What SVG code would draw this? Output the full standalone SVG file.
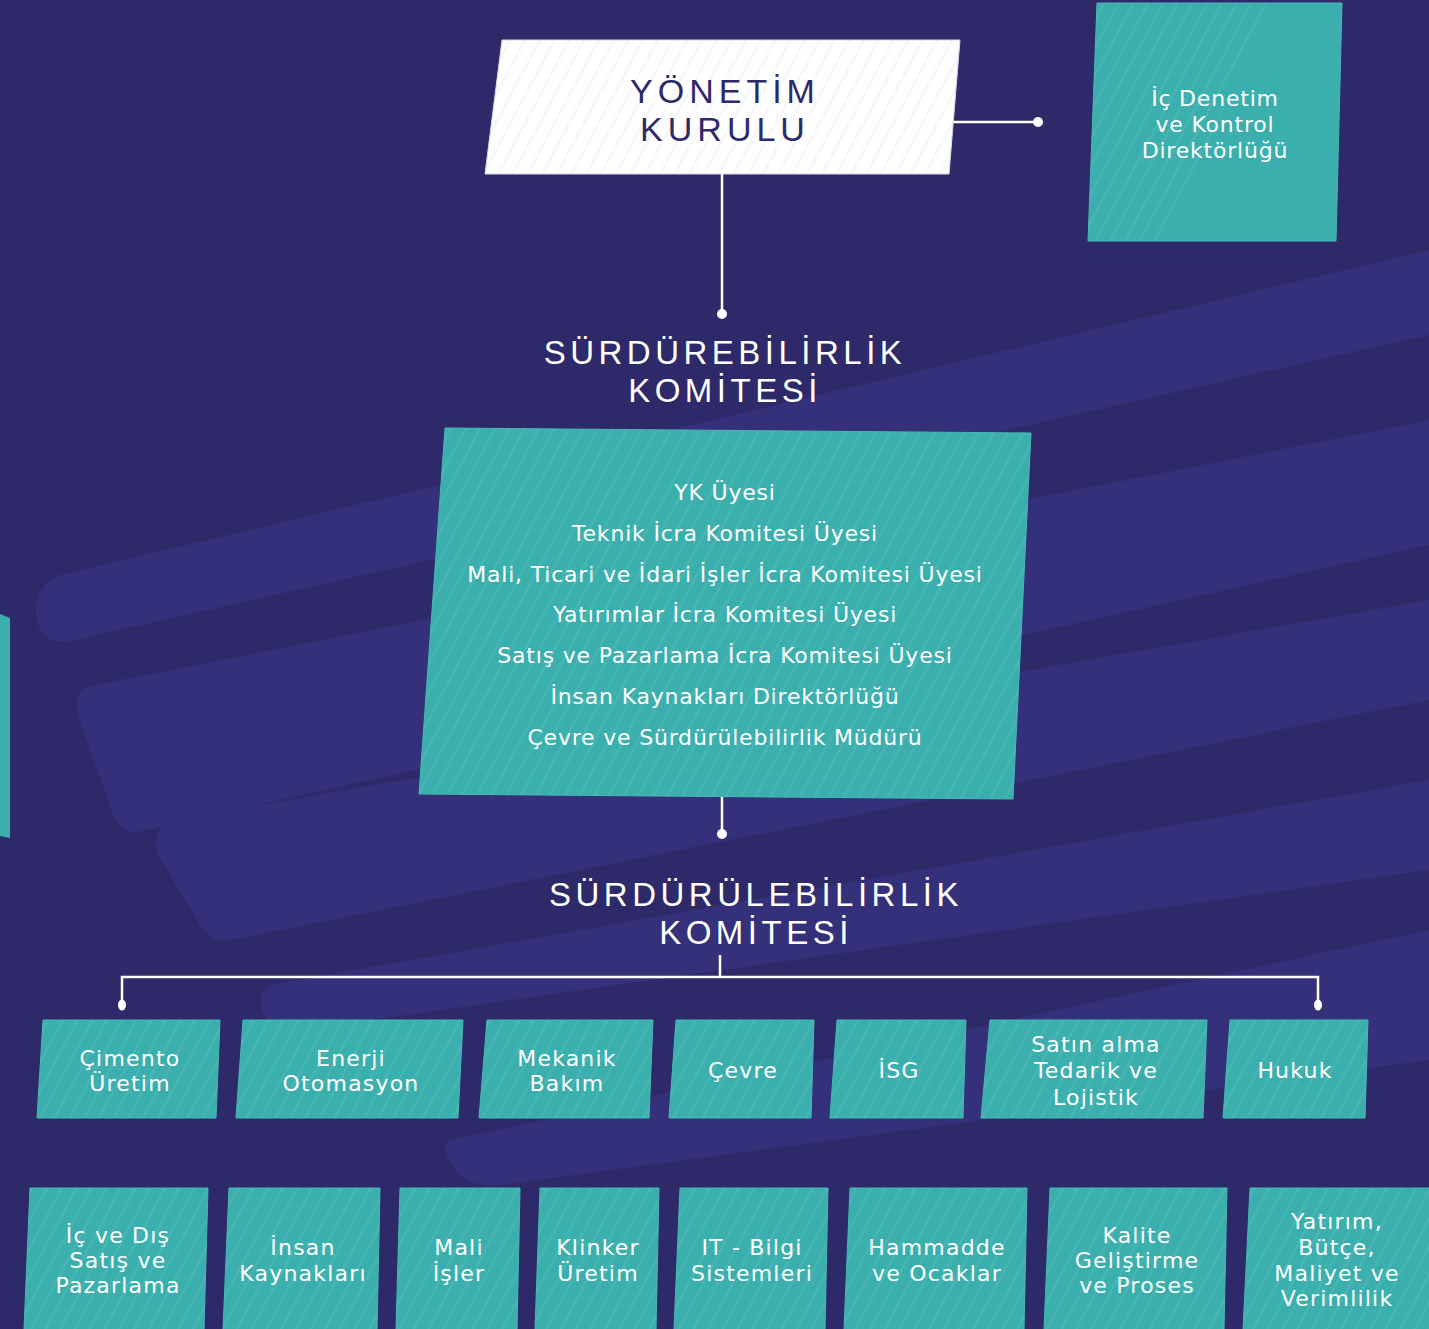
<svg xmlns="http://www.w3.org/2000/svg" width="1429" height="1329" viewBox="0 0 1429 1329">
<defs>
<pattern id="hatch" width="13" height="13" patternUnits="userSpaceOnUse" patternTransform="rotate(28)">
<rect x="0" y="0" width="2.5" height="13" fill="#ffffff" fill-opacity="0.07"/>
</pattern>
<pattern id="hatchN" width="13" height="13" patternUnits="userSpaceOnUse" patternTransform="rotate(28)">
<rect x="0" y="0" width="3" height="13" fill="#2e2a69" fill-opacity="0.035"/>
</pattern>
<style>
.bg{fill:#2e2a69}
.band{fill:#34307a}
.teal{fill:#3aafad;stroke:#46b9b6;stroke-width:1}
.hatch{fill:url(#hatch)}
.hd{font-family:"Liberation Sans",Arial,sans-serif;font-size:33px;fill:#ffffff;letter-spacing:4.5px;text-anchor:middle}
.yk{font-family:"Liberation Sans",Arial,sans-serif;font-size:34px;fill:#2e2a69;letter-spacing:5px;text-anchor:middle}
.bx{font-family:"DejaVu Sans",sans-serif;font-size:22px;fill:#ffffff;letter-spacing:1.2px;text-anchor:middle}
.big{font-family:"DejaVu Sans",sans-serif;font-size:22px;fill:#ffffff;letter-spacing:0.8px;text-anchor:middle}
.ln{stroke:#ffffff;stroke-width:2.5;fill:none}
.dot{fill:#ffffff}
</style>
</defs>
<rect class="bg" x="0" y="0" width="1429" height="1329"/>
<g id="background">
<path class="band" d="M60,575 L1429,250 L1429,335 L75,640 Q40,648 36,615 Q34,585 60,575 Z"/>
<path class="band" d="M95,685 L1429,420 L1429,545 L145,830 Q120,838 112,812 L78,715 Q72,690 95,685 Z"/>
<path class="band" d="M175,820 L1429,600 L1429,700 L230,940 Q212,944 200,925 L158,855 Q150,825 175,820 Z"/>
<path class="band" d="M270,985 L1429,780 L1429,870 L300,1030 Q270,1035 262,1010 Q258,990 270,985 Z"/>
<path class="band" d="M450,1140 L1429,930 L1429,1060 L500,1185 Q470,1188 455,1170 Q438,1145 450,1140 Z"/>
<path fill="#3aafad" d="M0,614 L10,618 L10,838 L0,836 Z"/>
</g>
<g id="connectors">
<line class="ln" x1="952" y1="122" x2="1038" y2="122"/>
<circle class="dot" cx="1038" cy="122" r="5"/>
<line class="ln" x1="722" y1="174" x2="722" y2="314"/>
<circle class="dot" cx="722" cy="314" r="5"/>
<line class="ln" x1="722" y1="797" x2="722" y2="834"/>
<circle class="dot" cx="722" cy="834" r="5"/>
<line class="ln" x1="720" y1="955" x2="720" y2="977"/>
<polyline class="ln" points="122,1004 122,977 1318,977 1318,1004"/>
<ellipse class="dot" cx="122" cy="1005" rx="4" ry="5.5"/>
<ellipse class="dot" cx="1318" cy="1005" rx="4" ry="5.5"/>
</g>
<g id="yonetim-kurulu">
<polygon fill="#ffffff" stroke="#d8d8e4" stroke-width="1" points="502,40 960,40 949,174 485,174"/>
<polygon fill="url(#hatchN)" points="502,40 960,40 949,174 485,174"/>
<text class="yk" x="725" y="103">YÖNETİM</text>
<text class="yk" x="725" y="141">KURULU</text>
</g>
<g id="ic-denetim">
<polygon class="teal" points="1097,3 1342,3 1336,241 1088,241"/>
<polygon class="hatch" points="1097,3 1275,3 1160,241 1088,241"/>
<text class="big" x="1215" y="106">İç Denetim</text>
<text class="big" x="1215" y="132">ve Kontrol</text>
<text class="big" x="1215" y="158">Direktörlüğü</text>
</g>
<g id="surdurebilirlik-komitesi">
<text class="hd" x="725" y="364">SÜRDÜREBİLİRLİK</text>
<text class="hd" x="725" y="402">KOMİTESİ</text>
<polygon class="teal" points="445,428 1031,433 1013,799 419,794"/>
<polygon class="hatch" points="445,428 1031,433 1013,799 419,794"/>
<text class="big" x="725" y="500">YK Üyesi</text>
<text class="big" x="725" y="541">Teknik İcra Komitesi Üyesi</text>
<text class="big" x="725" y="582">Mali, Ticari ve İdari İşler İcra Komitesi Üyesi</text>
<text class="big" x="725" y="622">Yatırımlar İcra Komitesi Üyesi</text>
<text class="big" x="725" y="663">Satış ve Pazarlama İcra Komitesi Üyesi</text>
<text class="big" x="725" y="704">İnsan Kaynakları Direktörlüğü</text>
<text class="big" x="725" y="745">Çevre ve Sürdürülebilirlik Müdürü</text>
</g>
<g id="surdurulebilirlik-komitesi">
<text class="hd" x="756" y="906">SÜRDÜRÜLEBİLİRLİK</text>
<text class="hd" x="756" y="944">KOMİTESİ</text>
</g>
<g id="cimento-uretim">
<polygon class="teal" points="43,1020 220,1020 216,1118 37,1118"/>
<polygon class="hatch" points="43,1020 220,1020 216,1118 37,1118"/>
<text class="bx" x="130" y="1066">Çimento</text>
<text class="bx" x="130" y="1091">Üretim</text>
</g>
<g id="enerji-otomasyon">
<polygon class="teal" points="243,1020 463,1020 458,1118 236,1118"/>
<polygon class="hatch" points="243,1020 463,1020 458,1118 236,1118"/>
<text class="bx" x="351" y="1066">Enerji</text>
<text class="bx" x="351" y="1091">Otomasyon</text>
</g>
<g id="mekanik-bakim">
<polygon class="teal" points="487,1020 653,1020 649,1118 479,1118"/>
<polygon class="hatch" points="487,1020 653,1020 649,1118 479,1118"/>
<text class="bx" x="567" y="1066">Mekanik</text>
<text class="bx" x="567" y="1091">Bakım</text>
</g>
<g id="cevre">
<polygon class="teal" points="676,1020 814,1020 811,1118 669,1118"/>
<polygon class="hatch" points="676,1020 814,1020 811,1118 669,1118"/>
<text class="bx" x="743" y="1078">Çevre</text>
</g>
<g id="isg">
<polygon class="teal" points="837,1020 966,1020 963,1118 830,1118"/>
<polygon class="hatch" points="837,1020 966,1020 963,1118 830,1118"/>
<text class="bx" x="899" y="1078">İSG</text>
</g>
<g id="satin-alma">
<polygon class="teal" points="990,1020 1207,1020 1203,1118 981,1118"/>
<polygon class="hatch" points="990,1020 1207,1020 1203,1118 981,1118"/>
<text class="bx" x="1096" y="1052">Satın alma</text>
<text class="bx" x="1096" y="1078">Tedarik ve</text>
<text class="bx" x="1096" y="1105">Lojistik</text>
</g>
<g id="hukuk">
<polygon class="teal" points="1230,1020 1368,1020 1365,1118 1223,1118"/>
<polygon class="hatch" points="1230,1020 1368,1020 1365,1118 1223,1118"/>
<text class="bx" x="1295" y="1078">Hukuk</text>
</g>
<g id="ic-dis-satis">
<polygon class="teal" points="30,1188 208,1188 204,1330 24,1330"/>
<polygon class="hatch" points="30,1188 208,1188 204,1330 24,1330"/>
<text class="bx" x="118" y="1243">İç ve Dış</text>
<text class="bx" x="118" y="1268">Satış ve</text>
<text class="bx" x="118" y="1293">Pazarlama</text>
</g>
<g id="insan-kaynaklari">
<polygon class="teal" points="229,1188 380,1188 377,1330 223,1330"/>
<polygon class="hatch" points="229,1188 380,1188 377,1330 223,1330"/>
<text class="bx" x="303" y="1255">İnsan</text>
<text class="bx" x="303" y="1281">Kaynakları</text>
</g>
<g id="mali-isler">
<polygon class="teal" points="400,1188 520,1188 517,1330 396,1330"/>
<polygon class="hatch" points="400,1188 520,1188 517,1330 396,1330"/>
<text class="bx" x="459" y="1255">Mali</text>
<text class="bx" x="459" y="1281">İşler</text>
</g>
<g id="klinker-uretim">
<polygon class="teal" points="540,1188 659,1188 656,1330 535,1330"/>
<polygon class="hatch" points="540,1188 659,1188 656,1330 535,1330"/>
<text class="bx" x="598" y="1255">Klinker</text>
<text class="bx" x="598" y="1281">Üretim</text>
</g>
<g id="it-bilgi">
<polygon class="teal" points="680,1188 828,1188 825,1330 674,1330"/>
<polygon class="hatch" points="680,1188 828,1188 825,1330 674,1330"/>
<text class="bx" x="752" y="1255">IT - Bilgi</text>
<text class="bx" x="752" y="1281">Sistemleri</text>
</g>
<g id="hammadde">
<polygon class="teal" points="850,1188 1027,1188 1024,1330 844,1330"/>
<polygon class="hatch" points="850,1188 1027,1188 1024,1330 844,1330"/>
<text class="bx" x="937" y="1255">Hammadde</text>
<text class="bx" x="937" y="1281">ve Ocaklar</text>
</g>
<g id="kalite">
<polygon class="teal" points="1050,1188 1227,1188 1224,1330 1044,1330"/>
<polygon class="hatch" points="1050,1188 1227,1188 1224,1330 1044,1330"/>
<text class="bx" x="1137" y="1243">Kalite</text>
<text class="bx" x="1137" y="1268">Geliştirme</text>
<text class="bx" x="1137" y="1293">ve Proses</text>
</g>
<g id="yatirim">
<polygon class="teal" points="1250,1188 1430,1188 1430,1330 1243,1330"/>
<polygon class="hatch" points="1250,1188 1430,1188 1430,1330 1243,1330"/>
<text class="bx" x="1337" y="1229">Yatırım,</text>
<text class="bx" x="1337" y="1255">Bütçe,</text>
<text class="bx" x="1337" y="1281">Maliyet ve</text>
<text class="bx" x="1337" y="1306">Verimlilik</text>
</g>
</svg>
